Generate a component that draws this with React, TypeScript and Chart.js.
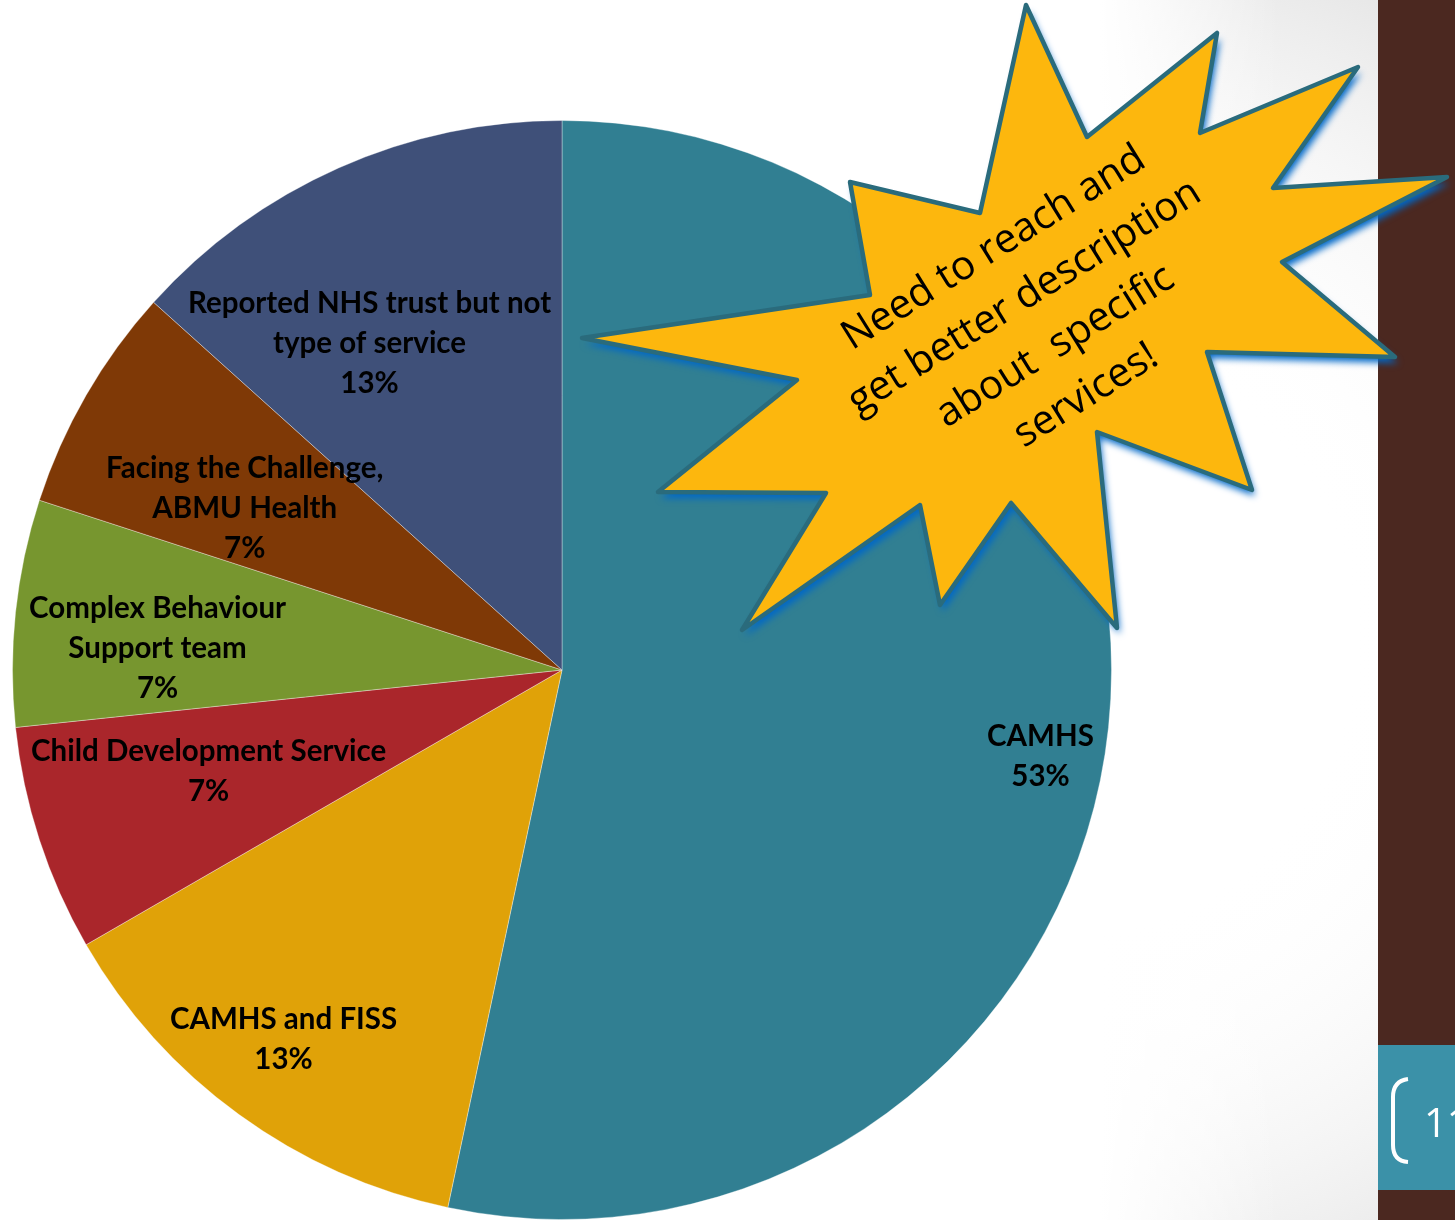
import React, { useEffect, useRef } from "react";
import { Chart, registerables } from "chart.js";

Chart.register(...registerables);

// ---- data ----
const categories: string[][] = [
  ["CAMHS"],
  ["CAMHS and FISS"],
  ["Child Development Service"],
  ["Complex Behaviour", "Support team"],
  ["Facing the Challenge,", "ABMU Health"],
  ["Reported NHS trust but not", "type of service"],
];
const counts = [8, 2, 1, 1, 1, 2];
const sliceColors = ["#317F92", "#E0A208", "#AA262B", "#77962F", "#7F3906", "#3F5079"];
const calloutLines = ["Need to reach and", "get better description", "about  specific", "services!"];
const pageNumber = "11";

// ---- label layout (fraction of radius, angle shift in degrees) ----
const labelRadius = [0.885, 0.842, 0.669, 0.737, 0.648, 0.69];
const labelShift = [4.3, 1, 2, -3, -3, -6.5];

const starPoints: [number, number][] = [
  [1026, 5], [1087, 137], [1217, 33], [1200, 133], [1358, 67], [1273, 188],
  [1447, 177], [1282, 262], [1395, 357], [1207, 352], [1252, 490], [1097, 432],
  [1117, 628], [1011, 503], [940, 605], [920, 505], [742, 630], [826, 493],
  [658, 492], [797, 380], [582, 338], [870, 295], [850, 182], [980, 213],
];

const total = counts.reduce((a, b) => a + b, 0);
const percentLabels = counts.map((c) => Math.round((c / total) * 100) + "%");

const backgroundPlugin = {
  id: "bgDecor",
  beforeDraw(chart: any) {
    const ctx = chart.ctx as CanvasRenderingContext2D;
    const W = chart.width, H = chart.height;
    ctx.save();
    ctx.fillStyle = "#ffffff";
    ctx.fillRect(0, 0, W, H);
    const g = ctx.createRadialGradient(1060, 640, 0, 1060, 640, 760);
    g.addColorStop(0, "rgba(255,255,255,0)");
    g.addColorStop(0.38, "rgba(255,255,255,0)");
    g.addColorStop(1, "rgba(226,226,226,1)");
    ctx.fillStyle = g;
    ctx.fillRect(1100, 0, 278, H);
    // fade left edge of the shading back to white
    const f = ctx.createLinearGradient(1100, 0, 1280, 0);
    f.addColorStop(0, "rgba(255,255,255,1)");
    f.addColorStop(1, "rgba(255,255,255,0)");
    ctx.fillStyle = f;
    ctx.fillRect(1100, 0, 180, H);
    // brown panel
    ctx.fillStyle = "#4B2820";
    ctx.fillRect(1378, 0, W - 1378, H);
    // teal page-number box
    ctx.fillStyle = "#3B91A8";
    ctx.fillRect(1378, 1045, W - 1378, 145);
    // bracket
    ctx.strokeStyle = "#ffffff";
    ctx.lineWidth = 4;
    ctx.beginPath();
    ctx.moveTo(1408, 1079);
    ctx.quadraticCurveTo(1393, 1081, 1393, 1097);
    ctx.lineTo(1393, 1145);
    ctx.quadraticCurveTo(1393, 1161, 1408, 1162);
    ctx.stroke();
    ctx.fillStyle = "#ffffff";
    ctx.font = "40px 'Open Sans'";
    ctx.textBaseline = "alphabetic";
    ctx.textAlign = "left";
    ctx.fillText(pageNumber, 1424, 1137);
    ctx.restore();
  },
};

const labelPlugin = {
  id: "sliceLabels",
  afterDatasetsDraw(chart: any) {
    const ctx = chart.ctx as CanvasRenderingContext2D;
    const meta = chart.getDatasetMeta(0);
    ctx.save();
    ctx.font = "bold 29.5px Lato";
    ctx.fillStyle = "#000000";
    ctx.textAlign = "center";
    ctx.textBaseline = "middle";
    meta.data.forEach((arc: any, i: number) => {
      const p = arc.getProps(["x", "y", "startAngle", "endAngle", "outerRadius"], true);
      const mid = (p.startAngle + p.endAngle) / 2 + (labelShift[i] * Math.PI) / 180;
      const r = p.outerRadius * labelRadius[i];
      const cx = p.x + Math.cos(mid) * r;
      const cy = p.y + Math.sin(mid) * r;
      const lines = [...categories[i], percentLabels[i]];
      const lh = 40;
      lines.forEach((t, j) => {
        ctx.fillText(t, cx, cy + (j - (lines.length - 1) / 2) * lh);
      });
    });
    ctx.restore();
  },
};

const starPlugin = {
  id: "starCallout",
  afterDraw(chart: any) {
    const ctx = chart.ctx as CanvasRenderingContext2D;
    ctx.save();
    ctx.beginPath();
    starPoints.forEach(([x, y], i) => (i === 0 ? ctx.moveTo(x, y) : ctx.lineTo(x, y)));
    ctx.closePath();
    ctx.shadowColor = "rgba(0,104,200,1)";
    ctx.shadowBlur = 7;
    ctx.shadowOffsetX = 3;
    ctx.shadowOffsetY = 6;
    ctx.fillStyle = "#FDB70D";
    ctx.fill();
    ctx.shadowColor = "transparent";
    ctx.shadowBlur = 0;
    ctx.shadowOffsetX = 0;
    ctx.shadowOffsetY = 0;
    ctx.lineJoin = "round";
    ctx.lineWidth = 4.5;
    ctx.strokeStyle = "#2A6B7C";
    ctx.stroke();
    // text
    ctx.translate(1040, 322);
    ctx.rotate((-32 * Math.PI) / 180);
    ctx.fillStyle = "#000000";
    ctx.font = "40.5px 'Open Sans'";
    ctx.textAlign = "center";
    ctx.textBaseline = "middle";
    const lh = 58;
    calloutLines.forEach((t, j) => {
      ctx.fillText(t, 0, (j - (calloutLines.length - 1) / 2) * lh);
    });
    ctx.restore();
  },
};

export default function App() {
  const ref = useRef<HTMLCanvasElement>(null);
  useEffect(() => {
    if (!ref.current) return;
    const chart = new Chart(ref.current, {
      type: "pie",
      data: {
        labels: categories.map((c) => c.join(" ")),
        datasets: [
          {
            data: counts,
            backgroundColor: sliceColors,
            borderColor: "rgba(255,255,255,0.35)",
            borderWidth: 1,
          },
        ],
      },
      options: {
        responsive: false,
        animation: false,
        events: [],
        layout: { padding: { left: 12, top: 120, right: 343, bottom: 0 } },
        plugins: {
          legend: { display: false },
          tooltip: { enabled: false },
        },
      },
      plugins: [backgroundPlugin, labelPlugin, starPlugin],
    });
    return () => chart.destroy();
  }, []);
  return (
    <div
      style={{
        position: "absolute",
        left: 0,
        top: 0,
        width: 1455,
        height: 1220,
        overflow: "hidden",
        background: "#ffffff",
      }}
    >
      <canvas ref={ref} width={1455} height={1220} style={{ display: "block", width: 1455, height: 1220 }} />
    </div>
  );
}
